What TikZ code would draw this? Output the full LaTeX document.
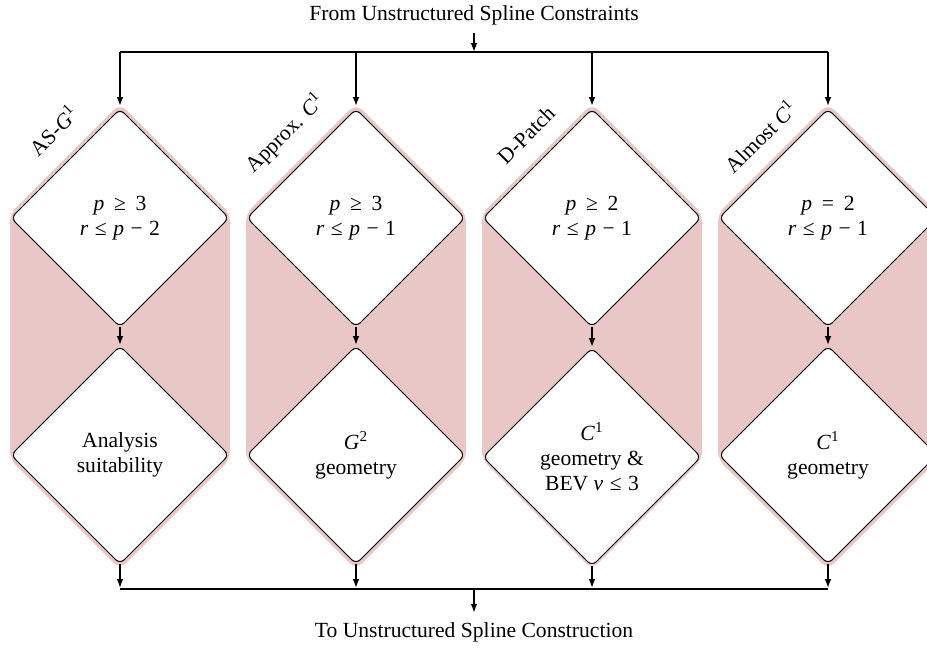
\documentclass[tikz,border=0pt]{standalone}
\usepackage{fontspec}
\setmainfont{Liberation Serif}
\usetikzlibrary{shapes.geometric,arrows.meta}
\definecolor{pinkbg}{RGB}{233,199,199}
\begin{document}
\begin{tikzpicture}[x=0.5pt,y=-0.5pt,
  font=\fontsize{10.8}{12.5}\selectfont,
  dia/.style={diamond, aspect=1, draw=black, line width=0.5pt, fill=white,
    rounded corners=3pt, minimum width=109pt, minimum height=109pt,
    inner sep=0pt, outer sep=0pt, align=center},
  hull/.style={fill=pinkbg, draw=pinkbg, line width=1pt, rounded corners=4pt},
  conn/.style={line width=0.8pt},
  arr/.style={conn, -{Latex[length=4.5pt,width=3.4pt]}},
  lab/.style={rotate=45, inner sep=0pt},
  txt/.style={inner sep=0pt}]
\useasboundingbox (0,0) rectangle (927,648);
\clip (0,0) rectangle (927,648);
% pink backgrounds
\foreach \c in {120,356,592,828}
  \fill[hull] (\c,105) -- (\c+109,214) -- (\c+109,459) -- (\c,568)
    -- (\c-109,459) -- (\c-109,214) -- cycle;
% top diamonds
\node[dia] (a1) at (120,218) {\textit{p}\hspace{0.45em}≥\hspace{0.45em}3\\\textit{r}\hspace{0.3em}≤\hspace{0.3em}\textit{p}\hspace{0.3em}−\hspace{0.3em}2};
\node[dia] (b1) at (356,218) {\textit{p}\hspace{0.45em}≥\hspace{0.45em}3\\\textit{r}\hspace{0.3em}≤\hspace{0.3em}\textit{p}\hspace{0.3em}−\hspace{0.3em}1};
\node[dia] (c1) at (592,218) {\textit{p}\hspace{0.45em}≥\hspace{0.45em}2\\\textit{r}\hspace{0.3em}≤\hspace{0.3em}\textit{p}\hspace{0.3em}−\hspace{0.3em}1};
\node[dia] (d1) at (828,218) {\textit{p}\hspace{0.45em}=\hspace{0.45em}2\\\textit{r}\hspace{0.3em}≤\hspace{0.3em}\textit{p}\hspace{0.3em}−\hspace{0.3em}1};
% bottom diamonds
\node[dia] (a2) at (120,455) {Analysis\\suitability};
\node[dia] (b2) at (356,455) {\textit{G}\textsuperscript{2}\\geometry};
\node[dia] (c2) at (592,457) {\textit{C}\textsuperscript{1}\\geometry \&\\BEV \textit{ν}\hspace{0.3em}≤\hspace{0.3em}3};
\node[dia] (d2) at (828,455) {\textit{C}\textsuperscript{1}\\geometry};
% rotated labels
\node[lab] (la) at (53,130) {AS-\textit{G}\textsuperscript{1}};
\node[lab] (lb) at (285,133) {Approx. \textit{C}\textsuperscript{1}};
\node[lab] (lc) at (526,135) {D-Patch};
\node[lab] (ld) at (760,136) {Almost \textit{C}\textsuperscript{1}};
% source and target
\node[txt] (src) at (474,15) {From Unstructured Spline Constraints};
\node[txt] (dst) at (474,632) {To Unstructured Spline Construction};
\coordinate (topbar) at (474,52);
\coordinate (botbar) at (474,589);
% top distribution
\draw[arr, shorten <=4pt] (src) -- (topbar);
\draw[conn] (a1.north |- topbar) -- (d1.north |- topbar);
\foreach \n in {a1,b1,c1,d1}
  \draw[arr, shorten >=1.5pt] (\n.north |- topbar) -- (\n.north);
% middle arrows
\foreach \u/\v in {a1/a2,b1/b2,c1/c2,d1/d2}
  \draw[arr, shorten >=0.5pt] (\u.south) -- (\v.north);
% bottom collection
\foreach \n in {a2,b2,c2,d2}
  \draw[arr, shorten >=0.5pt] (\n.south) -- (\n.south |- botbar);
\draw[conn] (a2.south |- botbar) -- (d2.south |- botbar);
\draw[arr, shorten >=4.5pt] (botbar) -- (dst);
\end{tikzpicture}
\end{document}
